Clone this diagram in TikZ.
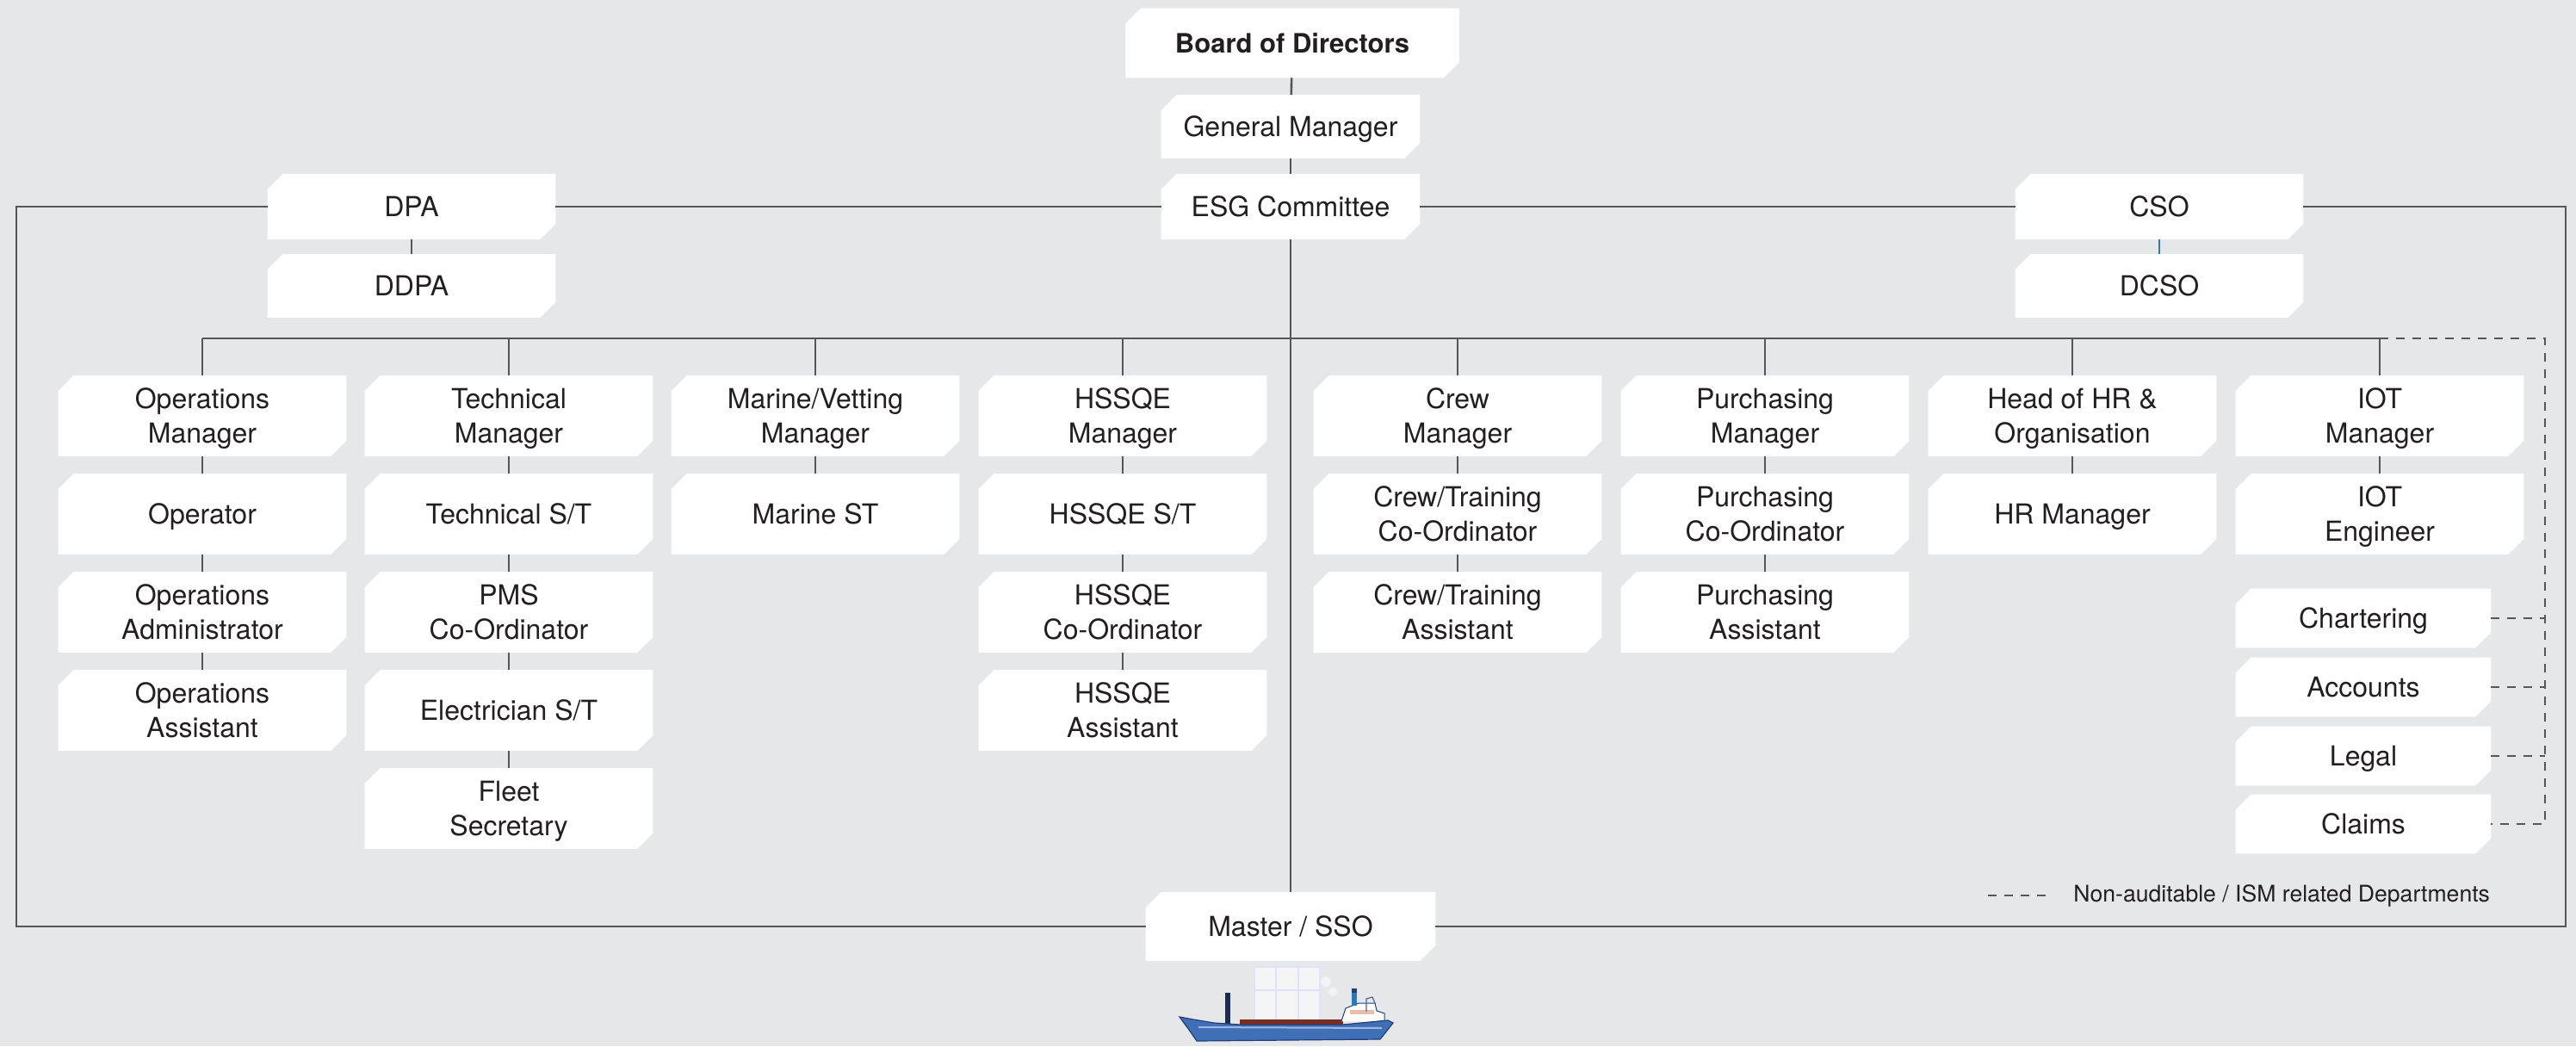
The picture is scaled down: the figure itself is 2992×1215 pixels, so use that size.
\documentclass[tikz,border=0pt]{standalone}
\usepackage{fontspec}
\setmainfont{TeX Gyre Heros}
\usetikzlibrary{calc}

\definecolor{pagebg}{HTML}{E6E7E8}
\definecolor{ink}{HTML}{231F20}
\definecolor{rule}{HTML}{555658}
\definecolor{csoblue}{HTML}{2A7AB8}
\definecolor{hullblue}{HTML}{3F6FB6}
\definecolor{hulldark}{HTML}{223F78}
\definecolor{deckred}{HTML}{7A2E22}

\pgfdeclarelayer{back}
\pgfdeclarelayer{cards}
\pgfsetlayers{back,cards,main}

\tikzset{
  card/.style={inner sep=0pt, align=center, text=ink, text depth=0pt,
    minimum width=167pt, minimum height=46.5pt,
    font=\fontsize{16}{20}\selectfont},
  cw/.style={minimum width={#1*0.5pt}},
  ch/.style={minimum height={#1*0.5pt}},
  link/.style={draw=rule, line width=1.3pt},
  bluelink/.style={draw=csoblue, line width=1.3pt},
  nonism/.style={draw=rule, line width=1.3pt, dash pattern=on 5pt off 4.5pt},
}

% white card with the top-left and bottom-right corners cut off
\newcommand\cardbg[1]{%
  \fill[white] ([yshift=-9pt]#1.north west) -- ([xshift=9pt]#1.north west)
    -- (#1.north east) -- ([yshift=9pt]#1.south east)
    -- ([xshift=-9pt]#1.south east) -- (#1.south west) -- cycle;}

\begin{document}
\begin{tikzpicture}[x=0.5pt,y=-0.5pt]
\begin{pgfonlayer}{back}
  \fill[pagebg] (0,0) rectangle (2992,1215);
\end{pgfonlayer}
\useasboundingbox (0,0) rectangle (2992,1215);

% top of the hierarchy
\node[card, cw=387, ch=80, font=\fontsize{15.5}{20}\selectfont\bfseries] (board) at (1501,50) {Board of Directors};
\node[card, cw=300, ch=73] (gm)  at (1499,147) {General Manager};
\node[card, cw=300, ch=75] (esg) at (1499,240) {ESG Committee};
\node[card, cw=334, ch=75] (dpa)  at (478,240) {DPA};
\node[card, cw=334, ch=73] (ddpa) at (478,332) {DDPA};
\node[card, cw=334, ch=75] (cso)  at (2508,240) {CSO};
\node[card, cw=334, ch=73] (dcso) at (2508,332) {DCSO};
\node[card, cw=336, ch=79] (master) at (1499,1076) {Master / SSO};

% departments
\tikzset{dept/.style={card, cw=334, ch=93}}
\node[dept] (opm)   at (235,483) {Operations\\Manager};
\node[dept] (opr)   at (235,597) {Operator};
\node[dept] (opadm) at (235,711) {Operations\\Administrator};
\node[dept] (opast) at (235,825) {Operations\\Assistant};

\node[dept] (tm)    at (591,483) {Technical\\Manager};
\node[dept] (tst)   at (591,597) {Technical S/T};
\node[dept] (pms)   at (591,711) {PMS\\Co-Ordinator};
\node[dept] (elec)  at (591,825) {Electrician S/T};
\node[dept] (fleet) at (591,939) {Fleet\\Secretary};

\node[dept] (mvm)   at (947,483) {Marine/Vetting\\Manager};
\node[dept] (mst)   at (947,597) {Marine ST};

\node[dept] (hm)    at (1304,483) {HSSQE\\Manager};
\node[dept] (hst)   at (1304,597) {HSSQE S/T};
\node[dept] (hco)   at (1304,711) {HSSQE\\Co-Ordinator};
\node[dept] (has)   at (1304,825) {HSSQE\\Assistant};

\node[dept] (cm)    at (1693,483) {Crew\\Manager};
\node[dept] (cco)   at (1693,597) {Crew/Training\\Co-Ordinator};
\node[dept] (cas)   at (1693,711) {Crew/Training\\Assistant};

\node[dept] (pm)    at (2050,483) {Purchasing\\Manager};
\node[dept] (pco)   at (2050,597) {Purchasing\\Co-Ordinator};
\node[dept] (pas)   at (2050,711) {Purchasing\\Assistant};

\node[dept] (hr)    at (2407,483) {Head of HR \&\\Organisation};
\node[dept] (hrm)   at (2407,597) {HR Manager};

\node[dept] (iot)    at (2764,483) {IOT\\Manager};
\node[dept] (ioteng) at (2764,597) {IOT\\Engineer};

\tikzset{side/.style={card, cw=296, ch=68}}
\node[side] (chart)  at (2745,718) {Chartering};
\node[side] (acc)    at (2745,798) {Accounts};
\node[side] (legal)  at (2745,878) {Legal};
\node[side] (claims) at (2745,957) {Claims};

% card backgrounds
\begin{pgfonlayer}{cards}
  \foreach \n in {board,gm,esg,dpa,ddpa,cso,dcso,master,
      opm,opr,opadm,opast,tm,tst,pms,elec,fleet,mvm,mst,hm,hst,hco,has,
      cm,cco,cas,pm,pco,pas,hr,hrm,iot,ioteng,chart,acc,legal,claims}
    {\cardbg{\n}}
\end{pgfonlayer}

% outer frame through DPA, ESG Committee, CSO and Master
\coordinate (fNW) at (19,240);
\coordinate (fSW) at (19,1076);
\coordinate (fNE) at (2980,240);
\coordinate (fSE) at (2980,1076);
\draw[link] (dpa.west) -- (fNW) -- (fSW) -- (master.west);
\draw[link] (dpa.east) -- (esg.west);
\draw[link] (esg.east) -- (cso.west);
\draw[link] (cso.east) -- (fNE) -- (fSE) -- (master.east);

% vertical spine
\draw[link] (board) -- (gm);
\draw[link] (gm) -- (esg);
\draw[link] (esg.south) -- (master.north);
\draw[link] (dpa) -- (ddpa);
\draw[bluelink] (cso) -- (dcso);

% department bus
\coordinate (busY) at (0,393);
\draw[link] (opm.north |- busY) -- (iot.north |- busY);
\foreach \n in {opm,tm,mvm,hm,cm,pm,hr,iot}
  \draw[link] (\n.north |- busY) -- (\n.north);

% reporting lines inside each department
\foreach \a/\b in {opm/opr,opr/opadm,opadm/opast,
    tm/tst,tst/pms,pms/elec,elec/fleet,mvm/mst,
    hm/hst,hst/hco,hco/has,cm/cco,cco/cas,
    pm/pco,pco/pas,hr/hrm,iot/ioteng}
  \draw[link] (\a) -- (\b);

% non-auditable departments
\coordinate (dTop) at (2956,393);
\draw[nonism] (iot.north |- busY) -- (dTop) -- (dTop |- claims.east) -- (claims.east);
\foreach \n in {chart,acc,legal}
  \draw[nonism] (\n.east) -- (\n.east -| dTop);

% legend
\coordinate (legA) at (2309,1040);
\coordinate (legB) at (2381,1040);
\draw[nonism] (legA) -- (legB);
\node[anchor=west, inner sep=0pt, text=ink, font=\fontsize{13.3}{16}\selectfont]
  (legend) at (2408,1040) {Non-auditable / ISM related Departments};

% ship
\fill[white, opacity=0.6] (1457,1123) rectangle (1533,1187);
\draw[blue!12, line width=0.6pt] (1457,1123) rectangle (1533,1187)
  (1482,1123) -- (1482,1187) (1508,1123) -- (1508,1187)
  (1457,1150) -- (1533,1150);
\fill[white, opacity=0.5] (1540,1140) circle (6) (1548,1152) circle (5);
\fill[hulldark!70!black] (1423,1153) rectangle (1429,1191);
\fill[deckred] (1440,1184) rectangle (1560,1190);
\fill[white] (1558,1186) -- (1563,1171) -- (1578,1165) -- (1597,1165)
  -- (1599,1174) -- (1608,1177) -- (1608,1187) -- cycle;
\draw[hulldark, line width=0.5pt] (1558,1186) -- (1563,1171) -- (1578,1165) -- (1597,1165)
  -- (1599,1174) -- (1608,1177) -- (1608,1187);
\fill[red!30!brown!40] (1568,1173) rectangle (1596,1178);
\draw[hulldark!80, line width=0.6pt] (1587,1175) -- (1587,1160) -- (1594,1158) -- (1597,1165);
\fill[csoblue] (1570,1150) rectangle (1576,1168);
\fill[hulldark] (1570,1148) rectangle (1576,1153);
\fill[hullblue, draw=hulldark, line width=0.6pt]
  (1370,1181) -- (1386,1184) -- (1410,1188) -- (1440,1190) -- (1560,1190)
  -- (1612,1185) -- (1618,1188) -- (1611,1197) -- (1603,1207) -- (1390,1209)
  -- (1381,1196) -- cycle;
\draw[hullblue!50!white, line width=1pt] (1392,1193) -- (1605,1194);
\end{tikzpicture}
\end{document}
